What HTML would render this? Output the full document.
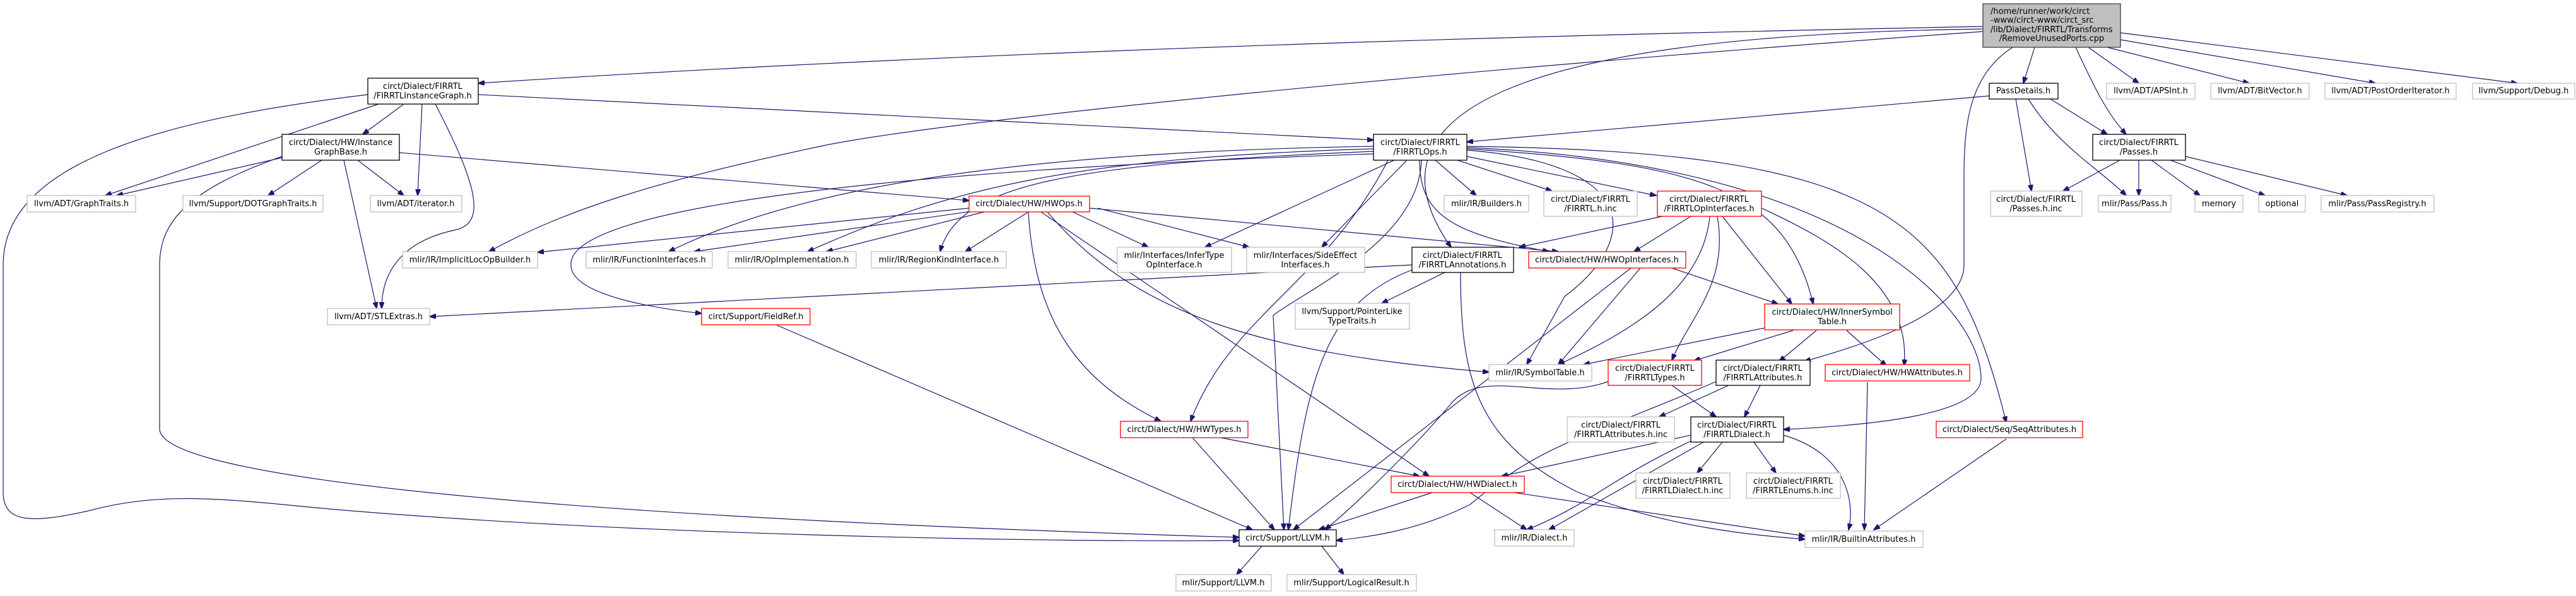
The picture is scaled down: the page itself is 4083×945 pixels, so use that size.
<!DOCTYPE html>
<html><head><meta charset="utf-8"><style>
html,body{margin:0;padding:0;background:#fff;}
svg{display:block;}
text{font-family:"DejaVu Sans","Liberation Sans",sans-serif;font-size:13px;fill:#000;}
.e{fill:none;stroke:#191970;stroke-width:1.2;marker-end:url(#a);}
.b{fill:#fff;stroke:#000;stroke-width:1.3;}
.g{fill:#fff;stroke:#bfbfbf;stroke-width:1.3;}
.r{fill:#fff;stroke:#ff0000;stroke-width:1.3;}
</style></head><body>
<svg width="4083" height="945" viewBox="0 0 4083 945" xmlns="http://www.w3.org/2000/svg">
<defs><marker id="a" markerUnits="userSpaceOnUse" markerWidth="11" markerHeight="8" refX="10" refY="4" orient="auto"><path d="M0,0 L11,4 L0,8 z" fill="#191970" stroke="#191970"/></marker></defs>

<!-- edges -->
<path class="e" d="M3143,42 C2200,60 1400,90 758,132"/>
<path class="e" d="M3143,46 C2400,55 2150,180 2300,392"/>
<path class="e" d="M3143,50 C2300,110 1500,190 1300,232 C1050,285 900,330 775,399"/>
<path class="e" d="M3225,75 L3207,132"/>
<path class="e" d="M3290,75 C3320,140 3340,180 3370,213"/>
<path class="e" d="M3310,75 L3390,132"/>
<path class="e" d="M3340,75 L3565,132"/>
<path class="e" d="M3361,63 L3765,132"/>
<path class="e" d="M3361,52 L3990,132"/>
<path class="e" d="M3190,75 C3120,120 3113,200 3113,280 L3113,420 C3113,500 2940,550 2860,573"/>

<path class="e" d="M600,165 L167,310"/>
<path class="e" d="M640,165 L575,213"/>
<path class="e" d="M669,165 L662,310"/>
<path class="e" d="M690,165 C760,300 770,355 720,365 C650,380 605,420 605,489"/>
<path class="e" d="M583,150 C250,190 5,260 5,420 L5,780 C5,830 50,830 140,810 C250,780 350,790 500,805 C1000,850 1700,860 1964,857"/>
<path class="e" d="M758,150 L2177,222"/>
<path class="e" d="M447,250 L185,310"/>
<path class="e" d="M510,254 L425,310"/>
<path class="e" d="M567,254 L640,310"/>
<path class="e" d="M545,254 L597,489"/>
<path class="e" d="M633,242 L1536,318"/>
<path class="e" d="M447,248 C300,300 253,350 253,420 L253,680 C253,760 900,820 1964,852"/>

<path class="e" d="M2177,232 C1700,240 1300,280 1060,399"/>
<path class="e" d="M2177,236 C1700,250 1500,300 1280,399"/>
<path class="e" d="M2177,240 C1700,260 1520,290 1490,399"/>
<path class="e" d="M2210,254 L1910,392"/>
<path class="e" d="M2230,254 L2095,392"/>
<path class="e" d="M2275,254 L2340,310"/>
<path class="e" d="M2310,254 L2460,303"/>
<path class="e" d="M2325,248 L2625,310"/>
<path class="e" d="M2250,254 C2250,340 2300,370 2455,399"/>
<path class="e" d="M2177,244 C1400,270 900,330 905,420 C905,470 1050,490 1112,497"/>
<path class="e" d="M2200,254 C2100,450 1950,500 1887,668"/>
<path class="e" d="M2253,254 C2250,380 2070,460 2018,500 L2035,840"/>
<path class="e" d="M2325,236 C2700,260 2830,300 2874,482"/>
<path class="e" d="M2325,232 C3000,240 3100,350 3180,670"/>
<path class="e" d="M2325,234 C2950,260 3140,500 3140,600 C3140,660 2950,675 2827,681"/>
<path class="e" d="M2325,238 C2600,260 2600,380 2480,470 L2420,578"/>

<path class="e" d="M1536,330 L852,400"/>
<path class="e" d="M1540,335 L1100,399"/>
<path class="e" d="M1560,336 L1310,399"/>
<path class="e" d="M1630,336 L1530,399"/>
<path class="e" d="M1700,336 L1820,392"/>
<path class="e" d="M1740,330 L1980,392"/>
<path class="e" d="M1727,330 L2470,399"/>
<path class="e" d="M1630,336 C1640,500 1700,600 1840,668"/>
<path class="e" d="M1650,336 L2265,755"/>
<path class="e" d="M1660,336 C1800,500 2000,560 2360,590"/>

<path class="e" d="M2680,343 L2590,399"/>
<path class="e" d="M2635,343 L2408,392"/>
<path class="e" d="M2730,343 L2840,482"/>
<path class="e" d="M2710,343 C2700,450 2600,520 2470,578"/>
<path class="e" d="M2722,343 C2740,450 2680,500 2650,571"/>
<path class="e" d="M2792,330 C2900,380 3030,450 3018,580"/>

<path class="e" d="M2650,425 L2818,482"/>
<path class="e" d="M2600,425 L2470,578"/>
<path class="e" d="M2585,425 L2050,840"/>
<path class="e" d="M2797,520 L2510,578"/>
<path class="e" d="M2842,524 L2685,572"/>
<path class="e" d="M2879,524 L2820,573"/>
<path class="e" d="M2927,524 L2990,580"/>

<path class="e" d="M2290,432 L2190,481"/>
<path class="e" d="M2238,428 C2100,480 2070,600 2042,840"/>
<path class="e" d="M2315,432 C2315,600 2340,700 2500,780 C2650,840 2800,850 2861,855"/>
<path class="e" d="M2238,420 L681,502"/>

<path class="e" d="M2650,611 L2720,661"/>
<path class="e" d="M2549,605 C2450,640 2350,580 2300,640 C2250,700 2150,800 2100,840"/>
<path class="e" d="M2740,611 L2630,661"/>
<path class="e" d="M2790,611 L2765,661"/>
<path class="e" d="M2720,605 C2500,700 2450,700 2330,800 C2250,840 2180,850 2118,857"/>
<path class="e" d="M2680,690 L2380,755"/>
<path class="e" d="M2685,697 C2550,760 2520,800 2420,840"/>
<path class="e" d="M2700,701 L2455,840"/>
<path class="e" d="M2730,701 L2690,750"/>
<path class="e" d="M2780,701 L2815,750"/>
<path class="e" d="M2827,690 C2930,720 2940,800 2930,840"/>
<path class="e" d="M1890,694 L2020,840"/>
<path class="e" d="M1935,694 L2250,755"/>
<path class="e" d="M2270,781 L2090,840"/>
<path class="e" d="M2330,781 L2420,840"/>
<path class="e" d="M2400,781 L2861,850"/>
<path class="e" d="M2960,606 L2955,840"/>
<path class="e" d="M3180,696 L2970,840"/>
<path class="e" d="M1230,515 L1985,840"/>
<path class="e" d="M2000,866 L1960,911"/>
<path class="e" d="M2095,866 L2130,911"/>

<path class="e" d="M3153,152 L2325,225"/>
<path class="e" d="M3250,157 L3340,213"/>
<path class="e" d="M3195,157 L3220,303"/>
<path class="e" d="M3215,157 C3260,230 3330,270 3370,310"/>
<path class="e" d="M3360,254 L3270,303"/>
<path class="e" d="M3390,254 L3390,310"/>
<path class="e" d="M3410,254 L3487,310"/>
<path class="e" d="M3440,254 L3590,310"/>
<path class="e" d="M3464,248 L3720,310"/>

<!-- nodes -->
<rect x="3143" y="6" width="218" height="69" fill="#bfbfbf" stroke="#404040" stroke-width="1.3"/>
<text x="3155" y="22">/home/runner/work/circt</text>
<text x="3155" y="36">-www/circt-www/circt_src</text>
<text x="3155" y="51">/lib/Dialect/FIRRTL/Transforms</text>
<text x="3252" y="65" text-anchor="middle">/RemoveUnusedPorts.cpp</text>

<g text-anchor="middle">
<rect class="b" x="583" y="124" width="175" height="41"/><text x="670" y="141">circt/Dialect/FIRRTL</text><text x="670" y="156">/FIRRTLInstanceGraph.h</text>
<rect class="b" x="3153" y="132" width="109" height="25"/><text x="3207" y="148">PassDetails.h</text>
<rect class="g" x="3339" y="132" width="140" height="25"/><text x="3409" y="148">llvm/ADT/APSInt.h</text>
<rect class="g" x="3504" y="132" width="156" height="25"/><text x="3582" y="148">llvm/ADT/BitVector.h</text>
<rect class="g" x="3685" y="132" width="208" height="25"/><text x="3789" y="148">llvm/ADT/PostOrderIterator.h</text>
<rect class="g" x="3919" y="132" width="162" height="25"/><text x="4000" y="148">llvm/Support/Debug.h</text>

<rect class="b" x="447" y="213" width="186" height="41"/><text x="540" y="230">circt/Dialect/HW/Instance</text><text x="540" y="245">GraphBase.h</text>
<rect class="b" x="2177" y="213" width="148" height="41"/><text x="2251" y="230">circt/Dialect/FIRRTL</text><text x="2251" y="245">/FIRRTLOps.h</text>
<rect class="b" x="3317" y="213" width="147" height="41"/><text x="3390" y="230">circt/Dialect/FIRRTL</text><text x="3390" y="245">/Passes.h</text>

<rect class="g" x="43" y="310" width="172" height="26"/><text x="129" y="327">llvm/ADT/GraphTraits.h</text>
<rect class="g" x="290" y="310" width="222" height="26"/><text x="401" y="327">llvm/Support/DOTGraphTraits.h</text>
<rect class="g" x="587" y="310" width="145" height="26"/><text x="659" y="327">llvm/ADT/iterator.h</text>
<rect class="r" x="1536" y="311" width="191" height="25"/><text x="1631" y="327">circt/Dialect/HW/HWOps.h</text>
<rect class="g" x="2289" y="310" width="134" height="26"/><text x="2356" y="327">mlir/IR/Builders.h</text>
<rect class="g" x="2447" y="303" width="148" height="40"/><text x="2521" y="320">circt/Dialect/FIRRTL</text><text x="2521" y="335">/FIRRTL.h.inc</text>
<rect class="r" x="2627" y="303" width="165" height="40"/><text x="2709" y="320">circt/Dialect/FIRRTL</text><text x="2709" y="335">/FIRRTLOpInterfaces.h</text>
<rect class="g" x="3155" y="303" width="145" height="40"/><text x="3227" y="320">circt/Dialect/FIRRTL</text><text x="3227" y="335">/Passes.h.inc</text>
<rect class="g" x="3326" y="310" width="115" height="26"/><text x="3383" y="327">mlir/Pass/Pass.h</text>
<rect class="g" x="3479" y="310" width="76" height="26"/><text x="3517" y="327">memory</text>
<rect class="g" x="3580" y="310" width="74" height="26"/><text x="3617" y="327">optional</text>
<rect class="g" x="3679" y="310" width="179" height="26"/><text x="3768" y="327">mlir/Pass/PassRegistry.h</text>

<rect class="g" x="638" y="399" width="214" height="26"/><text x="745" y="416">mlir/IR/ImplicitLocOpBuilder.h</text>
<rect class="g" x="929" y="399" width="200" height="26"/><text x="1029" y="416">mlir/IR/FunctionInterfaces.h</text>
<rect class="g" x="1154" y="399" width="203" height="26"/><text x="1255" y="416">mlir/IR/OpImplementation.h</text>
<rect class="g" x="1381" y="399" width="214" height="26"/><text x="1488" y="416">mlir/IR/RegionKindInterface.h</text>
<rect class="g" x="1771" y="392" width="181" height="40"/><text x="1861" y="409">mlir/Interfaces/InferType</text><text x="1861" y="424">OpInterface.h</text>
<rect class="g" x="1976" y="392" width="187" height="40"/><text x="2069" y="409">mlir/Interfaces/SideEffect</text><text x="2069" y="424">Interfaces.h</text>
<rect class="b" x="2238" y="392" width="161" height="40"/><text x="2318" y="409">circt/Dialect/FIRRTL</text><text x="2318" y="424">/FIRRTLAnnotations.h</text>
<rect class="r" x="2423" y="399" width="249" height="26"/><text x="2547" y="416">circt/Dialect/HW/HWOpInterfaces.h</text>

<rect class="g" x="519" y="489" width="162" height="26"/><text x="600" y="506">llvm/ADT/STLExtras.h</text>
<rect class="r" x="1112" y="489" width="172" height="26"/><text x="1198" y="506">circt/Support/FieldRef.h</text>
<rect class="g" x="2053" y="481" width="181" height="41"/><text x="2143" y="498">llvm/Support/PointerLike</text><text x="2143" y="513">TypeTraits.h</text>
<rect class="r" x="2797" y="482" width="214" height="41"/><text x="2904" y="499">circt/Dialect/HW/InnerSymbol</text><text x="2904" y="514">Table.h</text>

<rect class="g" x="2360" y="578" width="163" height="26"/><text x="2441" y="595">mlir/IR/SymbolTable.h</text>
<rect class="r" x="2549" y="571" width="148" height="40"/><text x="2623" y="588">circt/Dialect/FIRRTL</text><text x="2623" y="603">/FIRRTLTypes.h</text>
<rect class="b" x="2720" y="571" width="149" height="40"/><text x="2794" y="588">circt/Dialect/FIRRTL</text><text x="2794" y="603">/FIRRTLAttributes.h</text>
<rect class="r" x="2893" y="578" width="229" height="26"/><text x="3007" y="595">circt/Dialect/HW/HWAttributes.h</text>

<rect class="r" x="1776" y="668" width="202" height="26"/><text x="1877" y="685">circt/Dialect/HW/HWTypes.h</text>
<rect class="g" x="2484" y="661" width="170" height="40"/><text x="2569" y="678">circt/Dialect/FIRRTL</text><text x="2569" y="693">/FIRRTLAttributes.h.inc</text>
<rect class="b" x="2680" y="661" width="147" height="40"/><text x="2753" y="678">circt/Dialect/FIRRTL</text><text x="2753" y="693">/FIRRTLDialect.h</text>
<rect class="r" x="3069" y="668" width="232" height="26"/><text x="3185" y="685">circt/Dialect/Seq/SeqAttributes.h</text>

<rect class="r" x="2205" y="755" width="211" height="26"/><text x="2310" y="772">circt/Dialect/HW/HWDialect.h</text>
<rect class="g" x="2593" y="750" width="149" height="40"/><text x="2667" y="767">circt/Dialect/FIRRTL</text><text x="2667" y="782">/FIRRTLDialect.h.inc</text>
<rect class="g" x="2768" y="750" width="149" height="40"/><text x="2842" y="767">circt/Dialect/FIRRTL</text><text x="2842" y="782">/FIRRTLEnums.h.inc</text>

<rect class="b" x="1964" y="840" width="154" height="26"/><text x="2041" y="857">circt/Support/LLVM.h</text>
<rect class="g" x="2369" y="840" width="126" height="26"/><text x="2432" y="857">mlir/IR/Dialect.h</text>
<rect class="g" x="2861" y="842" width="187" height="26"/><text x="2954" y="859">mlir/IR/BuiltinAttributes.h</text>

<rect class="g" x="1864" y="911" width="151" height="26"/><text x="1939" y="928">mlir/Support/LLVM.h</text>
<rect class="g" x="2040" y="911" width="205" height="26"/><text x="2142" y="928">mlir/Support/LogicalResult.h</text>
</g>
</svg>
</body></html>
